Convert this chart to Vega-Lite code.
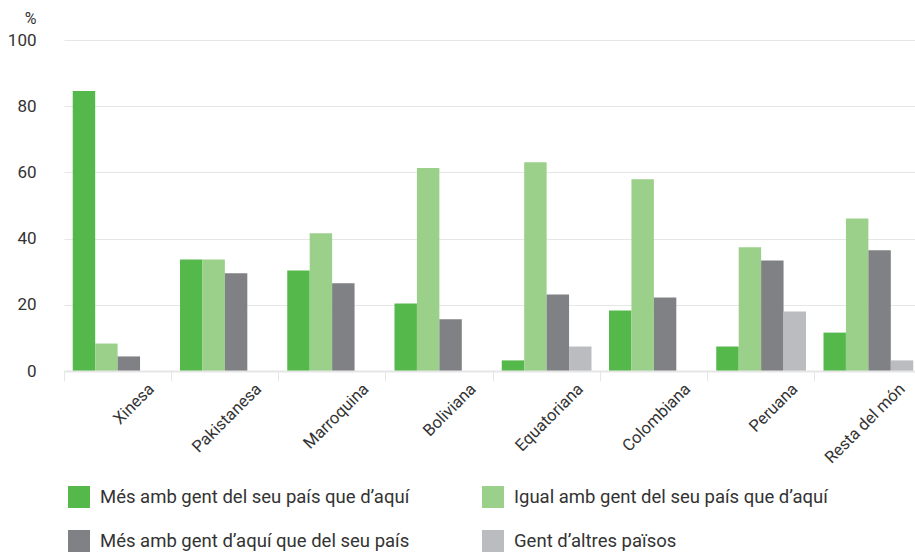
{
  "$schema": "https://vega.github.io/schema/vega-lite/v6.json",
  "autosize": {"type": "none"},
  "padding": {"left": 64, "top": 40, "right": 0, "bottom": 181},
  "width": 851,
  "height": 331,
  "background": "white",
  "config": {
    "font": "Roboto",
    "view": {"stroke": null}
  },
  "data": {
    "values": [
      {"pais": "Xinesa", "grup": "Més amb gent del seu país que d’aquí", "valor": 84.6},
      {"pais": "Xinesa", "grup": "Igual amb gent del seu país que d’aquí", "valor": 8.3},
      {"pais": "Xinesa", "grup": "Més amb gent d’aquí que del seu país", "valor": 4.4},
      {"pais": "Pakistanesa", "grup": "Més amb gent del seu país que d’aquí", "valor": 33.7},
      {"pais": "Pakistanesa", "grup": "Igual amb gent del seu país que d’aquí", "valor": 33.7},
      {"pais": "Pakistanesa", "grup": "Més amb gent d’aquí que del seu país", "valor": 29.5},
      {"pais": "Marroquina", "grup": "Més amb gent del seu país que d’aquí", "valor": 30.4},
      {"pais": "Marroquina", "grup": "Igual amb gent del seu país que d’aquí", "valor": 41.6},
      {"pais": "Marroquina", "grup": "Més amb gent d’aquí que del seu país", "valor": 26.5},
      {"pais": "Boliviana", "grup": "Més amb gent del seu país que d’aquí", "valor": 20.4},
      {"pais": "Boliviana", "grup": "Igual amb gent del seu país que d’aquí", "valor": 61.3},
      {"pais": "Boliviana", "grup": "Més amb gent d’aquí que del seu país", "valor": 15.6},
      {"pais": "Equatoriana", "grup": "Més amb gent del seu país que d’aquí", "valor": 3.2},
      {"pais": "Equatoriana", "grup": "Igual amb gent del seu país que d’aquí", "valor": 63.1},
      {"pais": "Equatoriana", "grup": "Més amb gent d’aquí que del seu país", "valor": 23.1},
      {"pais": "Equatoriana", "grup": "Gent d’altres països", "valor": 7.4},
      {"pais": "Colombiana", "grup": "Més amb gent del seu país que d’aquí", "valor": 18.3},
      {"pais": "Colombiana", "grup": "Igual amb gent del seu país que d’aquí", "valor": 57.9},
      {"pais": "Colombiana", "grup": "Més amb gent d’aquí que del seu país", "valor": 22.2},
      {"pais": "Peruana", "grup": "Més amb gent del seu país que d’aquí", "valor": 7.4},
      {"pais": "Peruana", "grup": "Igual amb gent del seu país que d’aquí", "valor": 37.4},
      {"pais": "Peruana", "grup": "Més amb gent d’aquí que del seu país", "valor": 33.4},
      {"pais": "Peruana", "grup": "Gent d’altres països", "valor": 18.0},
      {"pais": "Resta del món", "grup": "Més amb gent del seu país que d’aquí", "valor": 11.6},
      {"pais": "Resta del món", "grup": "Igual amb gent del seu país que d’aquí", "valor": 46.1},
      {"pais": "Resta del món", "grup": "Més amb gent d’aquí que del seu país", "valor": 36.5},
      {"pais": "Resta del món", "grup": "Gent d’altres països", "valor": 3.2}
    ]
  },
  "mark": {"type": "bar"},
  "encoding": {
    "x": {
      "field": "pais",
      "type": "nominal",
      "sort": ["Xinesa", "Pakistanesa", "Marroquina", "Boliviana", "Equatoriana", "Colombiana", "Peruana", "Resta del món"],
      "scale": {"range": [0, 858], "paddingInner": 0, "paddingOuter": 0},
      "axis": {
        "title": null,
        "bandPosition": 0,
        "labelAngle": -45,
        "labelAlign": "right",
        "labelBaseline": "middle",
        "labelOffset": 34,
        "labelPadding": 5,
        "labelFontSize": 16.5,
        "labelColor": "#333333",
        "tickSize": 10,
        "tickColor": "#e6e6e6",
        "tickWidth": 1,
        "domainColor": "#e6e6e6",
        "domainWidth": 2,
        "grid": false,
        "zindex": 1
      }
    },
    "xOffset": {
      "field": "grup",
      "type": "nominal",
      "sort": ["Més amb gent del seu país que d’aquí", "Igual amb gent del seu país que d’aquí", "Més amb gent d’aquí que del seu país", "Gent d’altres països"],
      "scale": {"paddingInner": 0, "paddingOuter": 0.39}
    },
    "y": {
      "field": "valor",
      "type": "quantitative",
      "scale": {"domain": [0, 100], "nice": false},
      "axis": {
        "title": "%",
        "titleAngle": 0,
        "titleX": -28,
        "titleY": -17,
        "titleAlign": "right",
        "titleBaseline": "alphabetic",
        "titleFontSize": 16,
        "titleFontWeight": "normal",
        "titleColor": "#333333",
        "values": [0, 20, 40, 60, 80, 100],
        "labelFontSize": 17,
        "labelColor": "#333333",
        "labelPadding": 28,
        "ticks": false,
        "domain": false,
        "gridColor": "#e6e6e6",
        "gridWidth": 1
      }
    },
    "color": {
      "field": "grup",
      "type": "nominal",
      "sort": ["Més amb gent del seu país que d’aquí", "Igual amb gent del seu país que d’aquí", "Més amb gent d’aquí que del seu país", "Gent d’altres països"],
      "scale": {
        "domain": ["Més amb gent del seu país que d’aquí", "Igual amb gent del seu país que d’aquí", "Més amb gent d’aquí que del seu país", "Gent d’altres països"],
        "range": ["#55b84a", "#9bd08a", "#808184", "#bbbcbf"]
      },
      "legend": {
        "title": null,
        "orient": "none",
        "legendX": 4,
        "legendY": 446,
        "direction": "horizontal",
        "columns": 2,
        "columnPadding": 72,
        "rowPadding": 22,
        "symbolType": "square",
        "symbolSize": 484,
        "symbolStrokeWidth": 0,
        "symbolOpacity": 1,
        "labelFontSize": 18.5,
        "labelColor": "#333333",
        "labelOffset": 10,
        "labelLimit": 500
      }
    }
  }
}
